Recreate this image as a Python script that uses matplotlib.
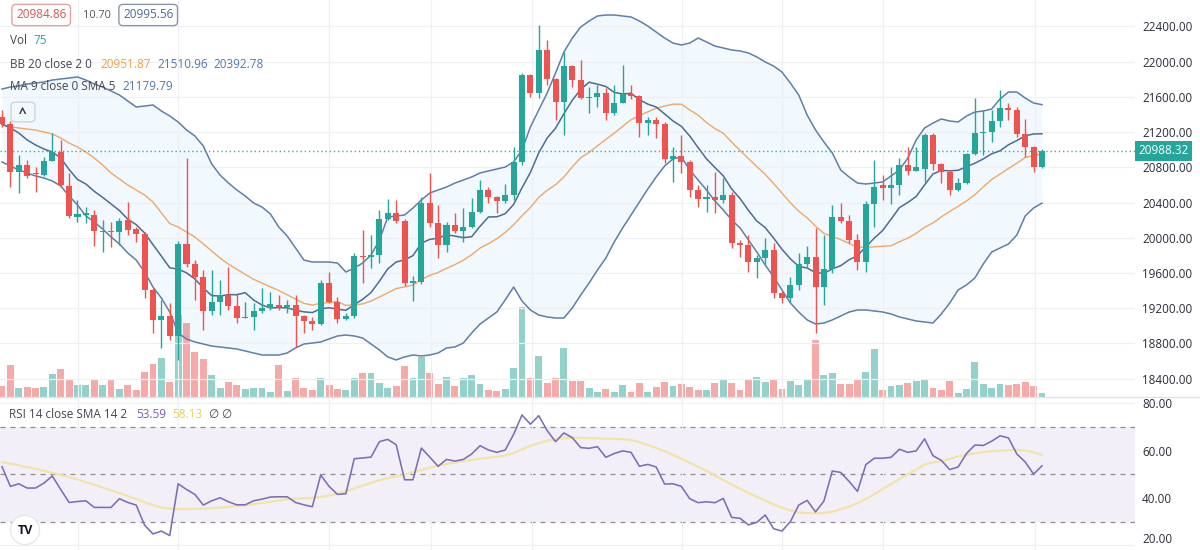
import matplotlib
matplotlib.use("Agg")
import matplotlib.pyplot as plt
import matplotlib.transforms as mtransforms
import numpy as np
from matplotlib.lines import Line2D
from matplotlib.patches import FancyBboxPatch

plt.rcParams['font.family'] = ['Open Sans', 'DejaVu Sans']

# ---------------- data ----------------
opens = [21371,21291,20746,20826,20735,20712,20871,20973,20587,20236,
 20258,20258,20065,20077,20065,20202,20099,20043,19407,19066,
 19112,18885,19929,19702,19555,19169,19271,19350,19225,19089,
 19101,19169,19203,19237,19214,19237,19112,19055,19021,19486,
 19271,19078,19112,19793,19782,19804,20213,20281,20190,19486,
 19498,20394,20168,19918,20145,20077,20122,20292,20542,20463,
 20417,20485,20860,21847,21643,22131,21802,21541,21949,21790,
 21586,21598,21643,21416,21529,21632,21609,21303,21336,21291,
 20894,20928,20860,20542,20440,20463,20428,20485,19941,19918,
 19725,19770,19861,19373,19316,19464,19702,19782,19441,19645,
 20236,20190,19975,19725,20383,20599,20565,20599,20826,20758,
 20780,21166,20837,20746,20542,20621,20951,21189,21200,21325,
 21473,21450,21178,21030,20803]
closes = [21291,20746,20826,20701,20724,20871,20973,20599,20247,20270,
 20281,20077,20077,20065,20190,20088,20043,19407,19066,19112,
 18885,19929,19702,19555,19169,19271,19350,19225,19089,19101,
 19169,19203,19248,19214,19237,19112,19055,19021,19486,19271,
 19078,19112,19793,19782,19804,20213,20281,20190,19486,19509,
 20394,20168,19918,20145,20077,20122,20292,20542,20463,20417,
 20485,20860,21847,21643,22131,21802,21541,21949,21790,21586,
 21598,21643,21416,21529,21632,21609,21303,21336,21291,20894,
 20928,20860,20542,20440,20463,20428,20485,19941,19918,19725,
 19770,19861,19373,19316,19464,19702,19782,19441,19645,20236,
 20190,19975,19725,20383,20576,20565,20599,20826,20758,20803,
 21166,20837,20746,20542,20621,20951,21189,21200,21325,21473,
 21450,21178,21030,20803,20988]
highs = [21450,21325,20939,20883,20803,20917,21189,21110,20735,20428,
 20349,20315,20202,20179,20224,20406,20122,20065,19430,19293,
 19260,19963,20905,19747,19634,19634,19520,19668,19373,19271,
 19260,19430,19384,19350,19293,19350,19123,19101,19520,19611,
 19328,19146,19827,20088,20031,20315,20440,20428,20213,19566,
 20463,20735,20372,20179,20281,20338,20451,20656,20576,20474,
 20610,21030,21870,21859,22415,22245,21813,22108,21961,22018,
 21711,21734,21700,21734,21961,21734,21620,21371,21371,21314,
 21030,21166,20883,20599,20599,20746,20678,20519,19975,20031,
 19804,19997,19941,19396,19555,19827,19906,20111,20031,20372,
 20394,20258,20043,20417,20883,20712,20803,20905,21030,21030,
 21189,21189,20848,20769,20678,20962,21586,21450,21450,21677,
 21529,21484,21348,21041,21007]
lows = [21257,20576,20508,20678,20519,20701,20871,20576,20224,20179,
 20168,19906,19838,19895,19918,20031,19952,19316,18919,18749,
 18839,18613,19668,19293,18953,19123,19123,19180,19032,19089,
 18953,19146,19180,19180,19146,18760,18919,18953,19010,19260,
 19032,19066,19089,19486,19657,19713,20202,20168,19452,19282,
 19475,20122,19770,19838,20054,19952,20111,20281,20394,20281,
 20394,20428,20826,21598,21586,21734,21336,21166,21711,21575,
 21416,21484,21336,21393,21529,21575,21144,21166,21132,20848,
 20633,20735,20463,20349,20292,20281,20394,19884,19782,19611,
 19543,19691,19316,19260,19271,19407,19668,18919,19237,19600,
 20168,19941,19634,19611,20122,20428,20383,20485,20712,20758,
 20633,20769,20621,20485,20531,20610,20939,20939,21087,21257,
 21336,21144,20917,20746,20792]
volumes = [193,560,158,180,163,180,403,490,298,210,
 210,315,210,298,140,210,123,443,578,677,
 257,1435,1290,793,660,385,152,268,210,135,
 152,152,82,560,105,338,152,123,327,210,
 140,123,338,415,415,250,152,193,543,338,
 705,425,228,355,198,338,385,222,123,110,
 140,513,1580,327,723,240,338,863,280,280,
 163,93,140,93,210,93,240,93,180,268,
 193,228,170,123,123,240,298,240,123,298,
 355,268,298,140,280,210,310,998,385,425,
 228,228,298,432,840,123,193,210,250,280,
 298,152,123,285,75,135,618,228,152,228,
 210,228,268,193,75]
bb_upper = [21688,21711,21722,21745,21756,21768,21790,21802,21813,21825,
 21790,21745,21711,21666,21620,21552,21484,21495,21507,21439,
 21382,21314,21223,21155,21041,20837,20712,20621,20542,20474,
 20394,20349,20270,20122,20020,19884,19747,19725,19725,19725,
 19713,19611,19657,19713,19804,19974,20236,20247,20258,20338,
 20428,20508,20542,20576,20621,20655,20690,20735,20758,20780,
 20803,20860,20996,21257,21450,21643,21870,22108,22267,22392,
 22460,22517,22528,22528,22517,22506,22460,22403,22335,22267,
 22210,22188,22210,22267,22222,22176,22154,22131,22120,22097,
 22052,21995,21949,21881,21756,21620,21393,21223,21087,20962,
 20769,20690,20621,20610,20621,20633,20701,20769,20905,21110,
 21246,21302,21348,21325,21314,21382,21427,21439,21461,21575,
 21654,21654,21586,21529,21511]
bb_basis = [21280,21257,21246,21234,21223,21200,21178,21132,21075,21030,
 20973,20905,20826,20735,20667,20599,20542,20485,20406,20283,
 20162,20122,20065,20008,19930,19850,19769,19700,19643,19584,
 19529,19485,19443,19401,19353,19304,19255,19236,19257,19265,
 19274,19233,19238,19249,19281,19328,19375,19423,19443,19463,
 19524,19573,19606,19653,19695,19745,19807,19883,19932,19989,
 20060,20147,20250,20343,20459,20539,20602,20690,20805,20909,
 20969,21043,21117,21187,21264,21339,21389,21429,21470,21494,
 21516,21516,21451,21391,21308,21239,21186,21086,20992,20899,
 20808,20719,20616,20506,20397,20302,20226,20131,20049,20016,
 19979,19935,19894,19891,19897,19904,19909,19954,19996,20050,
 20119,20168,20237,20298,20356,20418,20489,20577,20661,20723,
 20786,20846,20911,20932,20952]
bb_lower = [20860,20814,20769,20735,20701,20678,20644,20587,20474,20372,
 20247,20179,20099,20009,19929,19827,19747,19611,19441,19316,
 19157,18919,18851,18817,18794,18771,18760,18749,18737,18715,
 18692,18669,18669,18669,18692,18749,18794,18805,18817,18851,
 18885,18896,18885,18862,18794,18726,18647,18613,18647,18669,
 18658,18669,18692,18749,18760,18805,18919,19021,19089,19157,
 19294,19441,19282,19180,19123,19101,19089,19089,19203,19350,
 19486,19634,19770,19952,20111,20258,20406,20553,20690,20814,
 20894,20917,20769,20655,20542,20417,20315,20202,20111,19974,
 19838,19691,19555,19407,19259,19157,19067,19021,19032,19067,
 19112,19157,19180,19180,19169,19157,19135,19101,19078,19055,
 19044,19032,19135,19259,19407,19464,19543,19702,19838,19884,
 19929,20031,20247,20338,20393]
ma9 = [21291,21246,21189,21110,21053,21007,20973,20905,20775,20662,
 20610,20527,20458,20384,20309,20210,20149,20055,19922,19792,
 19659,19643,19602,19532,19430,19344,19338,19355,19353,19377,
 19292,19237,19203,19208,19204,19178,19159,19151,19194,19205,
 19191,19176,19241,19301,19378,19507,19647,19725,19749,19797,
 19939,19981,19996,20034,20019,20001,20012,20130,20236,20238,
 20273,20378,20567,20741,20964,21132,21243,21408,21561,21683,
 21765,21743,21717,21650,21632,21639,21567,21517,21484,21406,
 21326,21265,21155,21023,20895,20798,20703,20553,20445,20311,
 20190,20115,19996,19869,19761,19674,19657,19604,19595,19647,
 19683,19750,19796,19898,19995,20082,20210,20342,20400,20468,
 20600,20724,20764,20760,20766,20806,20846,20895,20953,20987,
 21055,21103,21157,21178,21180]
rsi = [53.2,44.9,46.0,44.2,44.2,46.3,49.3,43.6,38.1,38.5,
 38.8,36.0,36.0,36.0,39.7,38.1,37.0,28.5,24.8,26.0,
 24.1,46.0,43.6,41.5,37.0,38.8,40.1,38.4,37.1,37.1,
 38.8,39.5,40.4,40.5,40.5,38.1,37.1,36.3,49.7,44.9,
 41.5,41.8,56.6,56.9,57.3,63.8,64.8,62.5,47.7,47.7,
 61.1,57.3,53.4,56.3,55.6,56.3,58.6,62.1,60.3,59.3,
 60.3,66.9,75.1,71.2,74.8,68.5,63.8,67.5,65.5,61.3,
 61.0,61.7,57.2,58.8,59.9,59.3,53.4,54.2,53.1,45.9,
 46.0,44.9,39.7,38.0,38.4,38.0,39.8,31.8,31.4,28.6,
 29.7,32.8,27.0,26.0,30.0,37.0,39.0,34.1,38.7,51.4,
 50.8,47.0,42.8,54.1,56.8,56.8,57.2,60.6,59.3,59.9,
 65.0,57.9,55.9,52.0,53.1,58.8,62.4,62.2,64.0,66.3,
 65.4,58.6,55.2,50.1,53.59]
rsi_sma = [55.2,54.5,53.8,53.0,52.3,51.5,50.6,49.8,48.8,47.8,
 46.7,45.6,44.4,43.2,42.0,40.8,39.5,38.2,37.0,36.0,
 35.5,35.3,35.3,35.4,35.5,35.7,35.9,36.2,36.6,37.0,
 37.4,37.9,38.4,38.9,39.4,39.7,39.9,40.0,40.4,41.0,
 41.8,42.8,44.0,45.2,46.4,47.5,48.4,49.1,49.7,51.0,
 51.8,52.8,53.6,54.3,55.0,55.6,56.1,56.6,57.0,57.4,
 57.9,59.0,60.5,62.0,63.2,64.2,64.9,65.3,65.5,65.4,
 65.3,65.2,65.1,65.0,64.8,64.5,63.6,62.4,61.2,59.8,
 58.2,56.6,54.9,53.2,51.5,49.5,47.6,45.7,43.9,42.1,
 40.4,38.9,37.3,35.9,34.7,33.9,33.6,33.5,33.6,34.2,
 35.2,36.4,37.8,39.5,41.6,43.8,45.9,48.0,50.0,52.0,
 54.2,55.0,55.5,56.5,57.6,58.2,58.9,59.4,59.8,60.0,
 60.2,60.3,60.1,59.3,58.13]

price_ticks = [18400, 18800, 19200, 19600, 20000, 20400, 20800, 21200, 21600, 22000, 22400]
rsi_ticks = [20, 40, 60, 80]
rsi_levels = [70, 50, 30]
grid_x = [9.06, 20.98, 38.99, 51.15, 63.19, 81.08, 93.0, 105.04, 123.17]
last_price = 20988.32
bid_txt, spread_txt, ask_txt = "20984.86", "10.70", "20995.56"
vol_last = "75"
bb_vals = ["20951.87", "21510.96", "20392.78"]
ma_val = "21179.79"
rsi_vals = ["53.59", "58.13"]

# ---------------- layout ----------------
W, H = 1200, 550
fig = plt.figure(figsize=(12, 5.5), dpi=100)
fig.patch.set_facecolor('white')

plot_right = 1135 / W
split = 397 / H
ax = fig.add_axes([0, 1 - split, plot_right, split])
axr = fig.add_axes([0, 0, plot_right, 1 - split])

x = np.arange(len(closes))
xl = (-2 / 8.387, (1135 - 2) / 8.387)

UP, DOWN = '#26a69a', '#ef5350'
UPV, DOWNV = '#94d1cb', '#f6aaa7'
GRID = '#eef0f4'
TXT = '#434651'
AXTXT = '#2a2e39'
LFS = 8.4

o = np.array(opens, float)
c = np.array(closes, float)
up = c >= o
ccol = np.where(up, UP, DOWN)
vcol = np.where(up, UPV, DOWNV)

# volume (behind)
axv = ax.twinx()
ax.set_zorder(2)
axv.set_zorder(1)
ax.patch.set_visible(False)
axv.bar(x, volumes, width=0.82, color=vcol, linewidth=0)
axv.set_ylim(0, 397 * 17.5)
axv.set_xlim(*xl)
axv.axis('off')

# Bollinger bands + MA
ax.fill_between(x, bb_lower, bb_upper, color='#2196f3', alpha=0.06, linewidth=0, zorder=1)
ax.plot(x, bb_upper, color='#5f7fa6', lw=1.1, zorder=2)
ax.plot(x, bb_lower, color='#5f7fa6', lw=1.1, zorder=2)
ax.plot(x, bb_basis, color='#f2a765', lw=1.0, zorder=2)
ax.plot(x, ma9, color='#4e6b91', lw=1.1, zorder=2)

# candles
ax.vlines(x, lows, highs, colors=ccol, lw=1, zorder=3)
body_b = np.minimum(o, c)
body_h = np.maximum(np.abs(c - o), 11)
ax.bar(x, body_h, bottom=body_b, width=0.72, color=ccol, linewidth=0, zorder=4)

ax.axhline(last_price, color=UP, lw=1, ls=(0, (1, 2)), alpha=0.9, zorder=5)

ax.set_xlim(*xl)
ax.set_ylim(18192.5, 22698.5)
ax.set_yticks(price_ticks)
ax.set_yticklabels([f"{t:.2f}" for t in price_ticks])
ax.yaxis.tick_right()
ax.tick_params(axis='y', length=0, pad=5, labelsize=LFS, labelcolor=AXTXT)
ax.set_xticks(grid_x)
ax.tick_params(axis='x', length=0, labelbottom=False)
ax.grid(True, color=GRID, lw=0.9, zorder=0)
for s in ax.spines.values():
    s.set_visible(False)

ax.text(1.003, last_price, f"{last_price:.2f}", transform=ax.get_yaxis_transform(),
        ha='left', va='center', fontsize=LFS, color='white', zorder=10, clip_on=False,
        bbox=dict(boxstyle='square,pad=0.3', fc=UP, ec='none'))

# ---------------- RSI pane ----------------
axr.axhspan(rsi_levels[2], rsi_levels[0], color='#7e57c2', alpha=0.09, lw=0, zorder=0)
for lv in rsi_levels:
    axr.axhline(lv, color='#8d8d8d', lw=0.9, ls=(0, (4, 4)), zorder=1)
axr.plot(x, rsi_sma, color='#f2e4a6', lw=1.6, zorder=2)
axr.plot(x, rsi, color='#7c6db5', lw=1.15, zorder=3)
axr.set_xlim(*xl)
axr.set_ylim(18.0, 82.7)
axr.set_yticks(rsi_ticks)
axr.yaxis.tick_right()
axr.tick_params(axis='y', length=0, pad=5, labelsize=LFS, labelcolor=AXTXT)
axr.set_yticklabels([f"{t:.2f}" if t != rsi_ticks[0] else "" for t in rsi_ticks])
# lowest RSI label sits at the pane edge: nudge it up so it stays inside the picture
low_tf = axr.get_yaxis_transform() + mtransforms.ScaledTranslation(5 / 72, 4 / 72, fig.dpi_scale_trans)
axr.text(1.0, rsi_ticks[0], f"{rsi_ticks[0]:.2f}", transform=low_tf, ha='left', va='center',
         fontsize=LFS, color=AXTXT, clip_on=False)
axr.set_xticks(grid_x)
axr.tick_params(axis='x', length=0, labelbottom=False)
axr.grid(True, color=GRID, lw=0.9, zorder=0)
axr.set_facecolor('none')
for s in axr.spines.values():
    s.set_visible(False)

fig.add_artist(Line2D([0, 1], [1 - split, 1 - split], transform=fig.transFigure,
                      color='#dfe2e8', lw=1))

# ---------------- header texts ----------------
def fx(px):
    return px / W

def fy(py):
    return 1 - py / H

FS = 8.5
fig.text(fx(16), fy(15), bid_txt, ha='left', va='center', fontsize=FS, color='#d9534f',
         bbox=dict(boxstyle='round,pad=0.35,rounding_size=0.35', fc='white', ec='#e0a4a2', lw=1))
fig.text(fx(83), fy(15), spread_txt, ha='left', va='center', fontsize=FS - 0.6, color='#555555')
fig.text(fx(123), fy(15), ask_txt, ha='left', va='center', fontsize=FS, color='#4a6a9a',
         bbox=dict(boxstyle='round,pad=0.35,rounding_size=0.35', fc='white', ec='#8a97ab', lw=1))

fig.text(fx(10), fy(41), "Vol", ha='left', va='center', fontsize=FS, color=TXT)
fig.text(fx(33), fy(41), vol_last, ha='left', va='center', fontsize=FS, color=UP)

fig.text(fx(10), fy(64), "BB 20 close 2 0", ha='left', va='center', fontsize=FS, color=TXT)
fig.text(fx(100), fy(64), bb_vals[0], ha='left', va='center', fontsize=FS, color='#f0a040')
fig.text(fx(157), fy(64), bb_vals[1], ha='left', va='center', fontsize=FS, color='#4f78ad')
fig.text(fx(213), fy(64), bb_vals[2], ha='left', va='center', fontsize=FS, color='#4f78ad')

fig.text(fx(10), fy(87), "MA 9 close 0 SMA 5", ha='left', va='center', fontsize=FS, color=TXT)
fig.text(fx(122), fy(87), ma_val, ha='left', va='center', fontsize=FS, color='#4f78ad')

# collapse button
axb = fig.add_axes([fx(10), fy(123), 26 / W, 22 / H])
axb.axis('off')
axb.add_patch(FancyBboxPatch((0.04, 0.05), 0.92, 0.9, boxstyle='round,pad=0,rounding_size=0.18',
                             transform=axb.transAxes, fc='white', ec='#d6d9e0', lw=1))
axb.text(0.5, 0.42, "^", ha='center', va='center', fontsize=10, color='#333333',
         fontweight='bold', transform=axb.transAxes)

fig.text(fx(9), fy(414), "RSI 14 close SMA 14 2", ha='left', va='center', fontsize=FS, color=TXT)
fig.text(fx(136), fy(414), rsi_vals[0], ha='left', va='center', fontsize=FS, color='#7e57c2')
fig.text(fx(172), fy(414), rsi_vals[1], ha='left', va='center', fontsize=FS, color='#e6cf5a')
fig.text(fx(208), fy(414), "\u2205", ha='left', va='center', fontsize=FS, color=TXT)
fig.text(fx(221), fy(414), "\u2205", ha='left', va='center', fontsize=FS, color=TXT)

fig.text(fx(25), fy(530), "TV", ha='center', va='center', fontsize=9, color='#131722',
         fontweight='bold',
         bbox=dict(boxstyle='circle,pad=0.55', fc='white', ec='#e6e8ee', lw=1))

fig.savefig("out.png", dpi=100, facecolor='white')
